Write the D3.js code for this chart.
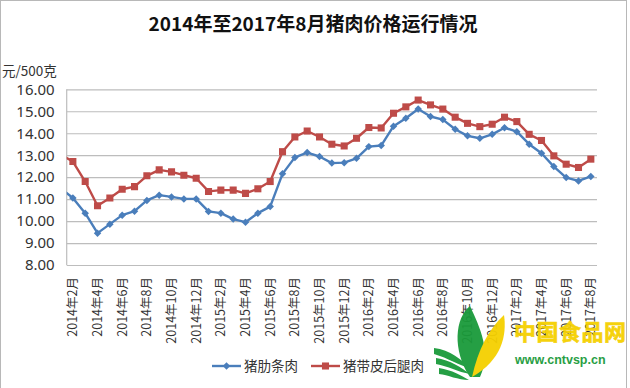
<!DOCTYPE html>
<html>
<head>
<meta charset="utf-8">
<script src="https://cdn.jsdelivr.net/npm/d3@7"></script>
<style>
  body { margin: 0; background: #fff; }
  svg { display: block; font-family: "Noto Sans CJK SC", "Noto Sans", sans-serif; }
</style>
</head>
<body>
<svg></svg>
<script>
const dims = { width: 630, height: 388 }
const margin = { top: 89.3, right: 33, bottom: 123, left: 66.7 }

// months, first one sits just left of the plot edge (line stub only)
const months = [
  '2014年1月', '2014年2月', '2014年3月', '2014年4月', '2014年5月', '2014年6月', '2014年7月', '2014年8月',
  '2014年9月', '2014年10月', '2014年11月', '2014年12月',
  '2015年1月', '2015年2月', '2015年3月', '2015年4月', '2015年5月', '2015年6月', '2015年7月', '2015年8月',
  '2015年9月', '2015年10月', '2015年11月', '2015年12月',
  '2016年1月', '2016年2月', '2016年3月', '2016年4月', '2016年5月', '2016年6月', '2016年7月', '2016年8月',
  '2016年9月', '2016年10月', '2016年11月', '2016年12月',
  '2017年1月', '2017年2月', '2017年3月', '2017年4月', '2017年5月', '2017年6月', '2017年7月', '2017年8月'
]
const tickLabels = [
  '2014年2月', '2014年4月', '2014年6月', '2014年8月', '2014年10月', '2014年12月',
  '2015年2月', '2015年4月', '2015年6月', '2015年8月', '2015年10月', '2015年12月',
  '2016年2月', '2016年4月', '2016年6月', '2016年8月', '2016年10月', '2016年12月',
  '2017年2月', '2017年4月', '2017年6月', '2017年8月'
]
const yTicks = [8, 9, 10, 11, 12, 13, 14, 15, 16]

// 猪肋条肉
const ribMeat = [
  11.5,
  11.05, 10.36, 9.45, 9.86, 10.27, 10.45, 10.94, 11.18, 11.1, 11.01, 11.01,
  10.44, 10.36, 10.09, 9.95, 10.36, 10.66, 12.15, 12.9, 13.12, 12.94, 12.64, 12.66,
  12.86, 13.39, 13.44, 14.32, 14.68, 15.1, 14.76, 14.62, 14.18, 13.88, 13.77, 13.95,
  14.25, 14.07, 13.5, 13.09, 12.48, 11.98, 11.83, 12.03
]
// 猪带皮后腿肉
const hindLeg = [
  13.03,
  12.71, 11.8, 10.7, 11.05, 11.45, 11.57, 12.06, 12.33, 12.24, 12.09, 11.95,
  11.35, 11.41, 11.41, 11.26, 11.47, 11.8, 13.16, 13.83, 14.1, 13.83, 13.5, 13.42,
  13.77, 14.26, 14.24, 14.91, 15.2, 15.51, 15.29, 15.1, 14.73, 14.45, 14.3, 14.41,
  14.73, 14.53, 13.95, 13.67, 12.97, 12.59, 12.44, 12.82
]

const series = [
  { name: '猪肋条肉', values: ribMeat, color: '#4a7ebb', square: false },
  { name: '猪带皮后腿肉', values: hindLeg, color: '#be4b48', square: true }
]

const svg = d3.select('svg')
  .attr('width', dims.width)
  .attr('height', dims.height)

// chart area border
svg.append('rect')
  .attr('x', 0.5).attr('y', 0.5)
  .attr('width', 626).attr('height', 400)
  .attr('fill', '#fff')
  .attr('stroke', '#b8b8b8')

const plotW = dims.width - margin.left - margin.right
const plotH = dims.height - margin.top - margin.bottom

const x = d3.scaleLinear()
  .domain([0.5, months.length - 0.5])
  .range([margin.left, margin.left + plotW])
const y = d3.scaleLinear()
  .domain([8, 16])
  .range([margin.top + plotH, margin.top])

// title
svg.append('text')
  .attr('x', 313).attr('y', 31)
  .attr('text-anchor', 'middle')
  .attr('font-size', 19)
  .attr('font-weight', 'bold')
  .attr('fill', '#111')
  .text('2014年至2017年8月猪肉价格运行情况')

svg.append('text')
  .attr('x', 2).attr('y', 76)
  .attr('font-size', 13.5)
  .attr('fill', '#333')
  .text('元/500克')

// y axis + gridlines
const yAxis = svg.append('g')
  .attr('transform', `translate(${margin.left},0)`)
  .call(d3.axisLeft(y).tickValues(yTicks).tickFormat(d3.format('.2f'))
    .tickSize(-plotW).tickPadding(12))
yAxis.select('.domain').remove()
yAxis.selectAll('.tick line').attr('stroke', '#bdbdbd').attr('stroke-width', 1.2)
yAxis.selectAll('.tick text')
  .attr('font-size', 15)
  .attr('fill', '#333')
  .attr('font-family', '"Noto Sans", sans-serif')

// left edge of plot
svg.append('line')
  .attr('x1', margin.left).attr('x2', margin.left)
  .attr('y1', margin.top).attr('y2', margin.top + plotH)
  .attr('stroke', '#bdbdbd').attr('stroke-width', 1.2)

// x labels (every other month)
svg.append('g').selectAll('text')
  .data(tickLabels)
  .join('text')
    .attr('transform', d => `translate(${x(months.indexOf(d)) + 4.5},${margin.top + plotH + 12}) rotate(-90)`)
    .attr('text-anchor', 'end')
    .attr('font-size', 12.5)
    .attr('fill', '#333')
    .text(d => d)

// clip to plot area
svg.append('clipPath').attr('id', 'plot-clip')
  .append('rect')
    .attr('x', margin.left).attr('y', 0)
    .attr('width', plotW + 10).attr('height', dims.height)

const line = d3.line()
  .x((d, i) => x(i))
  .y(d => y(d))

const marker = s => d3.symbol().type(d3.symbolSquare).size(s.square ? 50 : 28)()
const markerRot = s => s.square ? '' : ' rotate(45)'

const linesG = svg.append('g').attr('clip-path', 'url(#plot-clip)')
series.forEach(s => {
  linesG.append('path')
    .datum(s.values)
    .attr('fill', 'none')
    .attr('stroke', s.color)
    .attr('stroke-width', 2.4)
    .attr('stroke-linejoin', 'round')
    .attr('d', line)
  linesG.append('g').selectAll('path')
    .data(s.values)
    .join('path')
      .attr('d', marker(s))
      .attr('transform', (d, i) => `translate(${x(i)},${y(d)})` + markerRot(s))
      .attr('fill', s.color)
})

// legend
const legendItems = [
  { x: 212, s: series[0] },
  { x: 311, s: series[1] }
]
const legend = svg.append('g')
legendItems.forEach(item => {
  const g = legend.append('g').attr('transform', `translate(${item.x},366)`)
  g.append('line').attr('x1', 0).attr('x2', 29)
    .attr('stroke', item.s.color).attr('stroke-width', 2.4)
  g.append('path')
    .attr('d', marker(item.s))
    .attr('transform', 'translate(14.5,0)' + markerRot(item.s))
    .attr('fill', item.s.color)
  g.append('text')
    .attr('x', 32).attr('y', 5)
    .attr('font-size', 13.5)
    .attr('fill', '#333')
    .text(item.s.name)
})

// watermark logo
const logo = svg.append('g').attr('opacity', 0.95)
logo.append('path')
  .attr('d', 'M470,377 C452,350 455,318 470,306 C480,328 492,352 480,377 Z')
  .attr('fill', '#1a9a3a')
logo.append('path')
  .attr('d', 'M472,377 C502,360 507,335 504,315 C488,330 478,350 472,377 Z')
  .attr('fill', '#f5d000')
logo.append('path')
  .attr('d', 'M434,348 C450,350 462,360 470,368 C460,366 448,358 434,354 Z M436,358 C450,360 462,368 470,374 C458,372 448,366 436,364 Z M439,368 C452,370 462,376 469,380 C458,380 448,375 439,374 Z')
  .attr('fill', '#1a9a3a')
logo.append('text')
  .attr('x', 514).attr('y', 340)
  .attr('font-size', 22)
  .attr('font-weight', 'bold')
  .attr('fill', '#f5d000')
  .attr('stroke', '#f5d000')
  .attr('stroke-width', 0.6)
  .attr('letter-spacing', 0.5)
  .text('中国食品网')
logo.append('text')
  .attr('x', 515).attr('y', 364)
  .attr('font-size', 12.5)
  .attr('font-weight', 'bold')
  .attr('font-family', '"Liberation Sans", sans-serif')
  .attr('fill', '#1a9a3a')
  .text('www.cntvsp.cn')
</script>
</body>
</html>
